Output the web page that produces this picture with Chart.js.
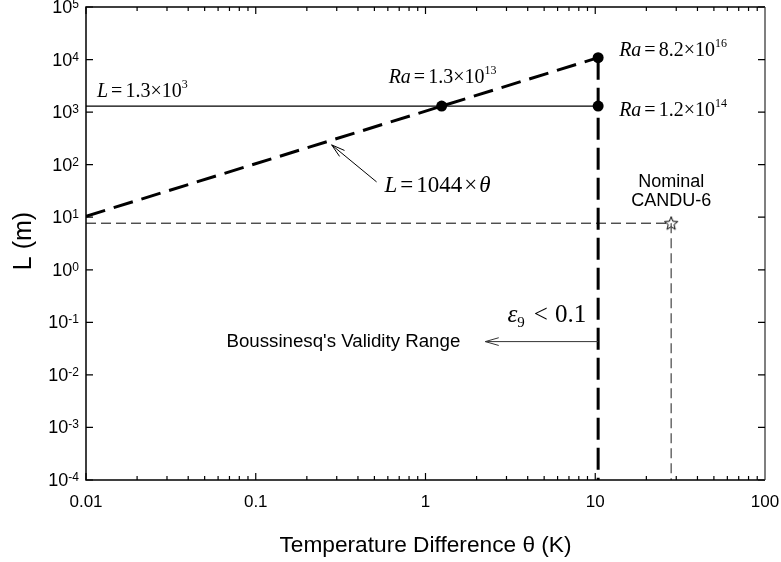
<!DOCTYPE html>
<html>
<head>
<meta charset="utf-8">
<script src="https://cdn.jsdelivr.net/npm/chart.js@4.4.1/dist/chart.umd.min.js"></script>
<style>
  html, body { margin: 0; padding: 0; background: #fff; }
  canvas { display: block; }
</style>
</head>
<body>
<canvas id="grafico" width="781" height="562"></canvas>
<script>
// ejes
const xTicks = [0.01, 0.1, 1, 10, 100];
const xTickLabels = ['0.01', '0.1', '1', '10', '100'];
const yExponents = [-4, -3, -2, -1, 0, 1, 2, 3, 4, 5];

// L = 1044 x theta
const scaleTheta = [0.01, 10.4];
const scaleL = [10.44, 10858];
// L = 1.3e3
const constTheta = [0.01, 10.4];
const constL = [1300, 1300];
// limite eps9 < 0.1
const limitTheta = [10.4, 10.4];
const limitL = [10858, 0.0001];
// CANDU-6 nominal
const nominalTheta = [0.01, 28, 28];
const nominalL = [7.7, 7.7, 0.0001];
// puntos con su Ra
const raTheta = [1.245, 10.4, 10.4];
const raL = [1300, 10858, 1300];
const raCoef = ['1.3', '8.2', '1.2'];
const raExp = ['13', '16', '14'];

const SANS = '"Liberation Sans", Arial, sans-serif';
const SERIF = '"Liberation Serif", "Times New Roman", serif';

const pts = (xs, ys) => xs.map((v, i) => ({ x: v, y: ys[i] }));

// estrella hueca para el punto nominal
const estrella = document.createElement('canvas');
estrella.width = 16; estrella.height = 16;
(() => {
  const c = estrella.getContext('2d');
  c.beginPath();
  for (let i = 0; i < 10; i++) {
    const r = i % 2 === 0 ? 7 : 3;
    const ang = -Math.PI / 2 + i * Math.PI / 5;
    const px = 8 + r * Math.cos(ang), py = 8.5 + r * Math.sin(ang);
    i === 0 ? c.moveTo(px, py) : c.lineTo(px, py);
  }
  c.closePath();
  c.fillStyle = '#fff';
  c.fill();
  c.lineWidth = 1;
  c.strokeStyle = '#000';
  c.stroke();
})();

// texto por partes: [texto, fuente, desplazamiento vertical] o un numero = hueco
function partes(ctx, x, y, lista, alinear) {
  let ancho = 0;
  lista.forEach(p => {
    if (typeof p === 'number') { ancho += p; return; }
    ctx.font = p[1];
    ancho += ctx.measureText(p[0]).width;
  });
  let cx = alinear === 'right' ? x - ancho : alinear === 'center' ? x - ancho / 2 : x;
  ctx.textAlign = 'left';
  ctx.textBaseline = 'alphabetic';
  lista.forEach(p => {
    if (typeof p === 'number') { cx += p; return; }
    ctx.font = p[1];
    ctx.fillText(p[0], cx, y + (p[2] || 0));
    cx += ctx.measureText(p[0]).width;
  });
}

function flecha(ctx, x0, y0, x1, y1, color) {
  const ang = Math.atan2(y1 - y0, x1 - x0);
  ctx.save();
  ctx.strokeStyle = color;
  ctx.lineWidth = 1;
  ctx.beginPath();
  ctx.moveTo(x0, y0);
  ctx.lineTo(x1, y1);
  [-0.28, 0.28].forEach(d => {
    ctx.moveTo(x1, y1);
    ctx.lineTo(x1 - 14 * Math.cos(ang + d), y1 - 14 * Math.sin(ang + d));
  });
  ctx.stroke();
  ctx.restore();
}

const decorado = {
  id: 'decorado',
  afterDatasetsDraw(chart) {
    const { ctx, chartArea: a, scales: { x, y } } = chart;
    ctx.save();
    ctx.fillStyle = '#000';

    // marco
    ctx.lineWidth = 1.5;
    ctx.strokeStyle = '#000';
    ctx.beginPath();
    ctx.moveTo(a.right, a.top);
    ctx.lineTo(a.left, a.top);
    ctx.lineTo(a.left, a.bottom);
    ctx.lineTo(a.right, a.bottom);
    ctx.stroke();
    ctx.strokeStyle = '#555';
    ctx.beginPath();
    ctx.moveTo(a.right, a.top);
    ctx.lineTo(a.right, a.bottom);
    ctx.stroke();

    // marcas hacia dentro
    ctx.strokeStyle = '#000';
    ctx.lineWidth = 1.2;
    ctx.beginPath();
    for (let d = 0; d < xTicks.length - 1; d++) {
      for (let m = 1; m <= 9; m++) {
        const px = x.getPixelForValue(xTicks[d] * m);
        const len = m === 1 ? 7 : 4;
        ctx.moveTo(px, a.bottom); ctx.lineTo(px, a.bottom - len);
        ctx.moveTo(px, a.top); ctx.lineTo(px, a.top + len);
      }
    }
    yExponents.forEach(e => {
      const py = y.getPixelForValue(Math.pow(10, e));
      ctx.moveTo(a.left, py); ctx.lineTo(a.left + 7, py);
      ctx.moveTo(a.right, py); ctx.lineTo(a.right - 7, py);
    });
    ctx.stroke();

    // etiquetas de los ejes
    ctx.font = '17px ' + SANS;
    ctx.textAlign = 'center';
    ctx.textBaseline = 'alphabetic';
    xTicks.forEach((v, i) => ctx.fillText(xTickLabels[i], x.getPixelForValue(v), a.bottom + 27));
    yExponents.forEach(e => {
      const py = y.getPixelForValue(Math.pow(10, e));
      partes(ctx, a.left - 7, py + 6, [['10', '18px ' + SANS], ['' + e, '12px ' + SANS, -5]], 'right');
    });

    ctx.font = '22.7px ' + SANS;
    ctx.textAlign = 'center';
    ctx.fillText('Temperature Difference \u03b8 (K)', (a.left + a.right) / 2, 552);
    ctx.save();
    ctx.translate(31, 241);
    ctx.rotate(-Math.PI / 2);
    ctx.font = '25px ' + SANS;
    ctx.fillText('L (m)', 0, 0);
    ctx.restore();

    // Ra de cada punto
    const des = [[-53, -23], [21, -2], [21, 10]];
    raTheta.forEach((t, i) => {
      const px = x.getPixelForValue(t), py = y.getPixelForValue(raL[i]);
      partes(ctx, px + des[i][0], py + des[i][1], [
        ['Ra', 'italic 20px ' + SERIF], 3, ['=', '20px ' + SERIF], 3,
        [raCoef[i] + '\u00d710', '20px ' + SERIF], [raExp[i], '12px ' + SERIF, -9]
      ]);
    });

    // L = 1.3 x 10^3
    partes(ctx, a.left + 11, y.getPixelForValue(constL[0]) - 9, [
      ['L', 'italic 20px ' + SERIF], 3, ['=', '20px ' + SERIF], 3,
      ['1.3\u00d710', '20px ' + SERIF], ['3', '12px ' + SERIF, -9]
    ]);

    // L = 1044 x theta con su flecha
    const cola = { x: x.getPixelForValue(0.515), y: y.getPixelForValue(47) };
    const punta = { x: x.getPixelForValue(0.28), y: y.getPixelForValue(238) };
    flecha(ctx, cola.x, cola.y, punta.x, punta.y, '#000');
    partes(ctx, cola.x + 8, cola.y + 10, [
      ['L', 'italic 23px ' + SERIF], 3, ['=', '23px ' + SERIF], 3,
      ['1044', '23px ' + SERIF], 2, ['\u00d7', '23px ' + SERIF], 2, ['\u03b8', 'italic 23px ' + SERIF]
    ]);

    // rango de validez de Boussinesq
    const bx = x.getPixelForValue(limitTheta[0]);
    const by = y.getPixelForValue(0.043);
    const fin = x.getPixelForValue(2.25);
    flecha(ctx, bx, by, fin, by, '#333');
    partes(ctx, bx - 12, by - 20, [
      ['\u03b5', 'italic 25px ' + SERIF], ['9', '15px ' + SERIF, 5], 9,
      ['<', '25px ' + SERIF], 7, ['0.1', '25px ' + SERIF]
    ], 'right');
    ctx.font = '18.7px ' + SANS;
    ctx.textAlign = 'right';
    ctx.fillText("Boussinesq's Validity Range", fin - 25, by + 5);

    // CANDU-6
    const sx = x.getPixelForValue(nominalTheta[1]), sy = y.getPixelForValue(nominalL[1]);
    ctx.font = '18px ' + SANS;
    ctx.textAlign = 'center';
    ctx.fillText('Nominal', sx, sy - 36);
    ctx.fillText('CANDU-6', sx, sy - 17);

    ctx.restore();
  }
};

new Chart(document.getElementById('grafico'), {
  type: 'scatter',
  data: {
    datasets: [
      { data: pts(constTheta, constL), showLine: true, borderColor: '#000', borderWidth: 1.3, pointRadius: 0 },
      { data: pts(scaleTheta, scaleL), showLine: true, borderColor: '#000', borderWidth: 3, borderDash: [20, 9], pointRadius: 0 },
      { data: pts(limitTheta, limitL), showLine: true, borderColor: '#000', borderWidth: 3, borderDash: [22, 8], pointRadius: 0 },
      { data: pts(nominalTheta.slice(0, 2), nominalL.slice(0, 2)), showLine: true, borderColor: '#000', borderWidth: 1, borderDash: [10, 5], pointRadius: 0 },
      { data: pts(nominalTheta.slice(1), nominalL.slice(1)), showLine: true, borderColor: '#444', borderWidth: 1.2, borderDash: [10, 5], pointRadius: 0 },
      { data: pts(raTheta, raL), showLine: false, pointRadius: 5.5, backgroundColor: '#000', borderWidth: 0 },
      { data: pts(nominalTheta.slice(1, 2), nominalL.slice(1, 2)), showLine: false, pointStyle: estrella }
    ]
  },
  options: {
    responsive: false,
    animation: false,
    devicePixelRatio: 1,
    events: [],
    layout: { padding: { left: 86, top: 7, right: 16, bottom: 82 } },
    plugins: { legend: { display: false }, tooltip: { enabled: false } },
    scales: {
      x: { type: 'logarithmic', min: 0.01, max: 100, display: false },
      y: { type: 'logarithmic', min: 0.0001, max: 100000, display: false }
    }
  },
  plugins: [decorado]
});
</script>
</body>
</html>
